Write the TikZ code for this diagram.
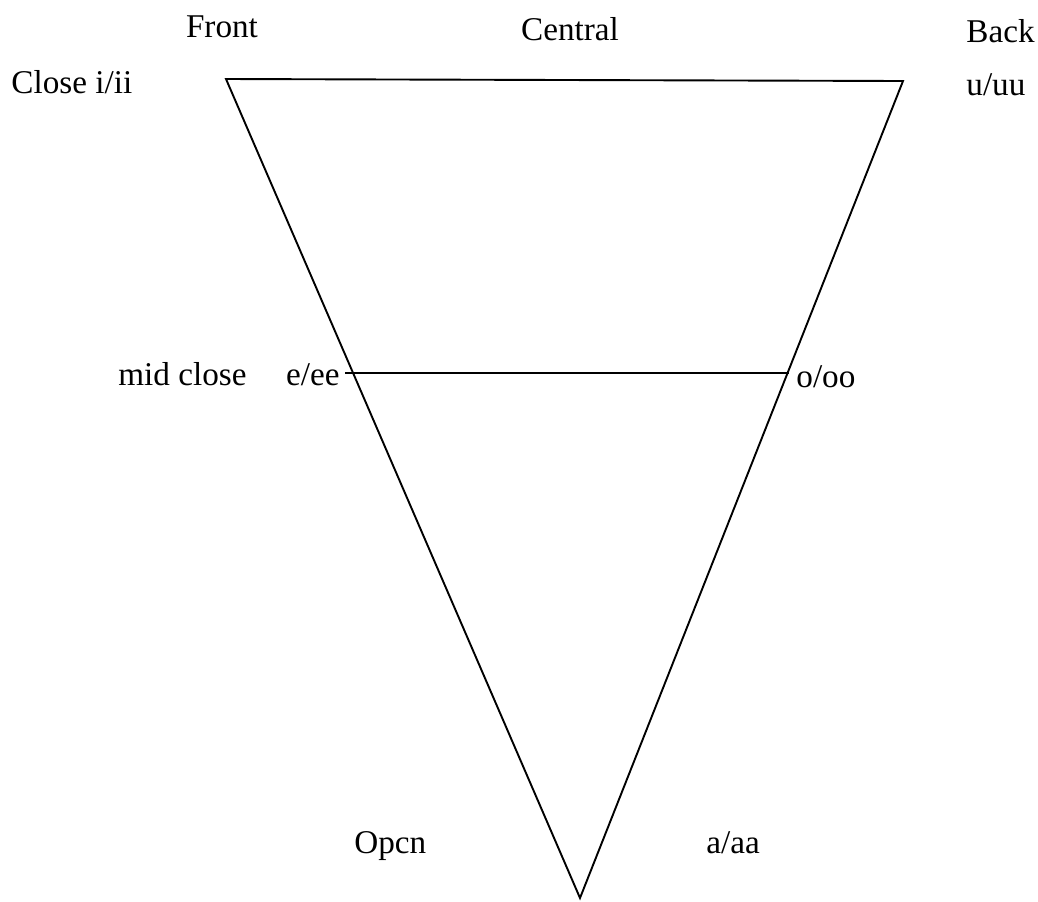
\documentclass[tikz,border=0pt]{standalone}
\usepackage{fontspec}
\setmainfont{Liberation Serif}
\begin{document}
\begin{tikzpicture}[x=0.5pt,y=-0.5pt,
  lbl/.style={inner sep=0pt,font=\fontsize{16.6}{19}\selectfont},
  edge/.style={line width=0.95pt,line join=miter}]
\useasboundingbox (0,0) rectangle (1038,901);
% triangle corners
\coordinate (tl) at (226,79);
\coordinate (tr) at (903,81);
\coordinate (ap) at (580,898);
\coordinate (ml) at (345,373);
\coordinate (mr) at (789,373);
\draw[edge] (tl) -- (tr) -- (ap) -- cycle;
\draw[edge] (ml) -- (mr);
% labels
\node[lbl,anchor=base] (front) at (222,37) {Front};
\node[lbl,anchor=base] (central) at (570,40) {Central};
\node[lbl,anchor=base west] (back) at (966,42) {Back};
\node[lbl,anchor=base west] (close) at (11,93) {Close i/ii};
\node[lbl,anchor=base west] (uuu) at (966,95) {u/uu};
\node[lbl,anchor=base west] (mid) at (118,385) {mid close};
\node[lbl,anchor=base east] (eee) at (340,385) {e/ee};
\node[lbl,anchor=base west] (ooo) at (796,387) {o/oo};
\node[lbl,anchor=base west] (open) at (354,853) {Opcn};
\node[lbl,anchor=base west] (aaa) at (706,853) {a/aa};
\end{tikzpicture}
\end{document}
